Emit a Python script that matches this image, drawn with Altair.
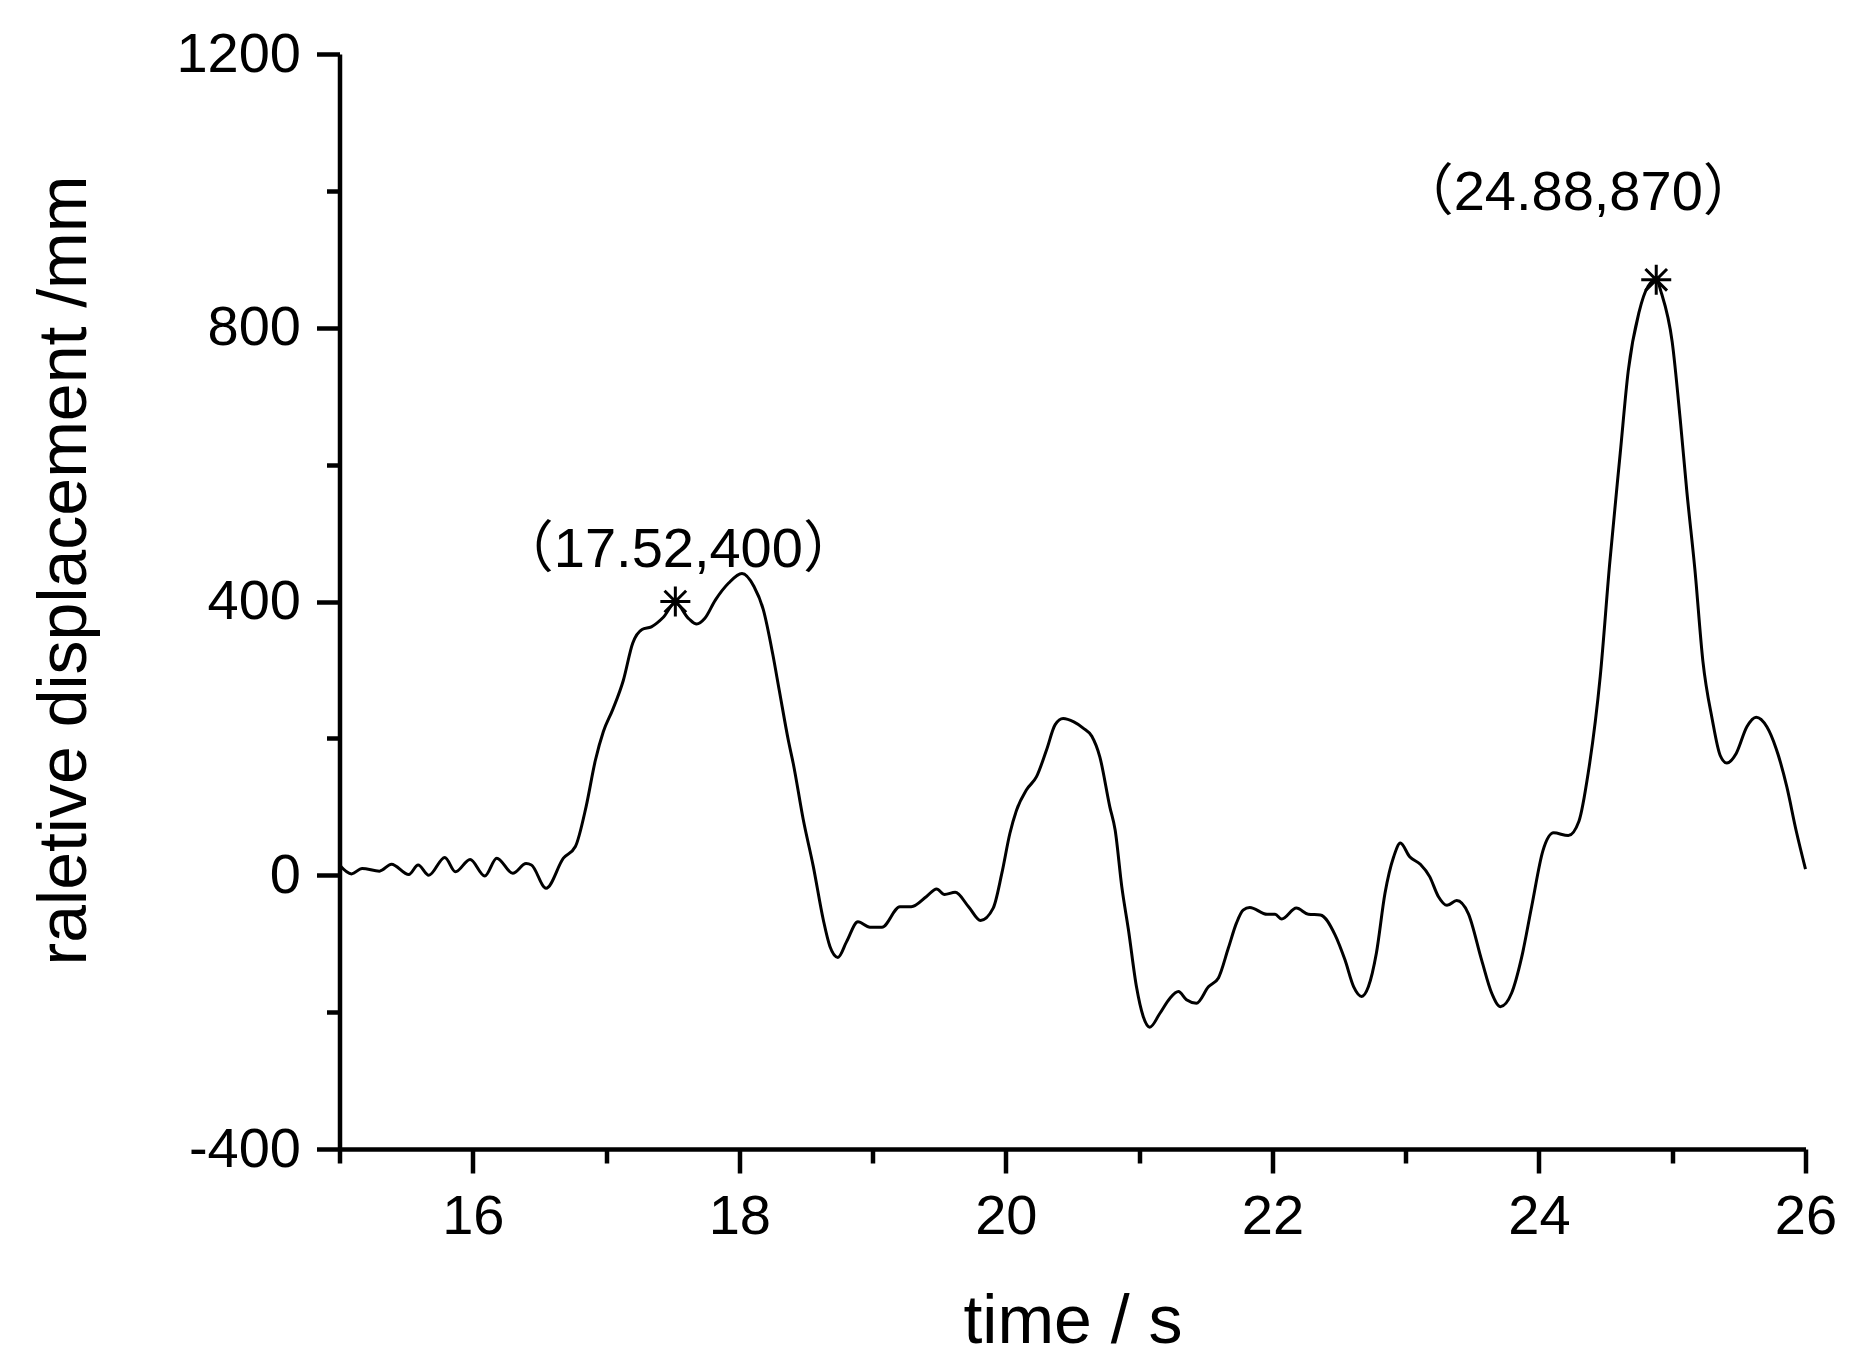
import altair as alt
import pandas as pd

# time (s) and relative displacement (mm)
T = [15.00, 15.09, 15.17, 15.30, 15.39, 15.52, 15.59, 15.67, 15.79, 15.87,
     15.98, 16.09, 16.18, 16.30, 16.40, 16.44, 16.55, 16.68, 16.77, 16.85,
     16.92, 16.98, 17.05, 17.13, 17.20, 17.27, 17.34, 17.43, 17.52, 17.62,
     17.68, 17.74, 17.82, 17.92, 18.02, 18.11, 18.18, 18.25, 18.30, 18.37,
     18.405, 18.48, 18.555, 18.63, 18.68, 18.74, 18.805, 18.89, 18.98, 19.07,
     19.205, 19.29, 19.405, 19.48, 19.54, 19.62, 19.72, 19.81, 19.905, 19.97,
     20.03, 20.08, 20.155, 20.23, 20.305, 20.37, 20.43, 20.51, 20.58, 20.645,
     20.705, 20.78, 20.82, 20.87, 20.92, 20.98, 21.03, 21.08, 21.155, 21.23,
     21.295, 21.355, 21.43, 21.52, 21.595, 21.67, 21.73, 21.78, 21.83, 21.96,
     22.02, 22.07, 22.18, 22.27, 22.36, 22.47, 22.545, 22.61, 22.67, 22.72,
     22.78, 22.845, 22.91, 22.96, 23.03, 23.11, 23.18, 23.245, 23.31, 23.383,
     23.47, 23.57, 23.645, 23.71, 23.795, 23.87, 23.945, 24.03, 24.11, 24.22,
     24.30, 24.37, 24.46, 24.53, 24.61, 24.67, 24.75, 24.82, 24.88, 24.92,
     25.00, 25.06, 25.11, 25.17, 25.23, 25.30, 25.36, 25.41, 25.48, 25.56,
     25.63, 25.71, 25.78, 25.86, 25.93, 26.00]
V = [15, 2, 10, 6, 16, 1, 15, 0, 26, 5,
     23, -1, 25, 3, 17, 15, -19, 25, 42, 100,
     168, 210, 242, 285, 339, 359, 363, 377, 398, 375,
     367, 375, 402, 427, 441, 422, 388, 324, 270, 195,
     163, 81, 13, -65, -104, -120, -97, -68, -76, -76,
     -46, -46, -31, -20, -28, -25, -46, -66, -48, 3,
     61, 95, 125, 144, 183, 220, 229, 224, 215, 203,
     173, 100, 66, -17, -80, -163, -206, -222, -202, -180,
     -170, -182, -187, -163, -150, -106, -70, -51, -47, -57,
     -57, -64, -48, -57, -58, -87, -124, -163, -177, -163,
     -114, -26, 27, 47, 27, 16, -2, -31, -44, -37,
     -56, -124, -172, -192, -172, -120, -46, 36, 62, 58,
     79, 150, 291, 454, 617, 737, 822, 861, 870, 850,
     779, 666, 560, 447, 313, 228, 175, 164, 178, 217,
     231, 217, 185, 129, 65, 9]

# marked points and their labels
MARK_T = [17.52, 24.88]
MARK_V = [400, 870]
MARK_LABELS = ["（17.52,400）", "（24.88,870）"]

X_TICKS = list(range(15, 27))
Y_TICKS = list(range(-400, 1201, 200))

FONT = "Liberation Sans"
W, H = 1466, 1095

df = pd.DataFrame({"t": T, "v": V})
marks = pd.DataFrame({"t": MARK_T, "v": MARK_V, "label": MARK_LABELS})

xscale = alt.Scale(domain=[15, 26], nice=False, zero=False)
yscale = alt.Scale(domain=[-400, 1200], nice=False, zero=False)

x_axis = alt.Axis(
    values=X_TICKS,
    tickSize={"condition": {"test": "datum.value % 2 === 0", "value": 24}, "value": 14},
    tickWidth=4.5, tickColor="black", domainWidth=4.5, domainColor="black",
    labelExpr="datum.value % 2 === 0 ? '' + datum.value : ''",
    labelFontSize=56, labelFont=FONT, labelColor="black", labelPadding=16,
    labelFlush=False, labelOverlap=False, grid=False,
    title="time / s", titleFont=FONT, titleFontSize=68, titleFontWeight="normal",
    titleColor="black", titleY=193, titleBaseline="alphabetic",
)
y_axis = alt.Axis(
    values=Y_TICKS,
    tickSize={"condition": {"test": "datum.value % 400 === 0", "value": 23}, "value": 13},
    tickWidth=4.5, tickColor="black", domainWidth=4.5, domainColor="black",
    labelExpr="datum.value % 400 === 0 ? '' + datum.value : ''",
    labelFontSize=56, labelFont=FONT, labelColor="black", labelPadding=16,
    labelFlush=False, labelOverlap=False, grid=False,
    title="raletive displacement /mm", titleFont=FONT, titleFontSize=68,
    titleFontWeight="normal", titleColor="black",
    titleX=-254, titleY=516, titleBaseline="alphabetic",
)

line = alt.Chart(df).mark_line(color="black", strokeWidth=3, interpolate="monotone").encode(
    x=alt.X("t:Q", scale=xscale, axis=x_axis),
    y=alt.Y("v:Q", scale=yscale, axis=y_axis),
)

star_path = "M-1,0L1,0M0,-1L0,1M-0.72,-0.72L0.72,0.72M-0.72,0.72L0.72,-0.72"
stars = alt.Chart(marks).mark_point(
    shape=star_path, size=900, filled=False, stroke="black", strokeWidth=3, opacity=1
).encode(x=alt.X("t:Q", scale=xscale), y=alt.Y("v:Q", scale=yscale))

lab1 = alt.Chart(marks.iloc[[0]]).mark_text(
    font=f"{FONT}, Noto Sans CJK SC", fontSize=56, color="black",
    align="center", baseline="middle", dx=3, dy=-52,
).encode(x=alt.X("t:Q", scale=xscale), y=alt.Y("v:Q", scale=yscale), text="label:N")

lab2 = alt.Chart(marks.iloc[[1]]).mark_text(
    font=f"{FONT}, Noto Sans CJK SC", fontSize=56, color="black",
    align="center", baseline="middle", dx=-78, dy=-87,
).encode(x=alt.X("t:Q", scale=xscale), y=alt.Y("v:Q", scale=yscale), text="label:N")

chart = alt.layer(line, stars, lab1, lab2).properties(
    width=W, height=H,
    autosize=alt.AutoSizeParams(type="none"),
    padding={"left": 331.5, "top": 46, "right": 40, "bottom": 212},
    background="white",
).configure_view(stroke=None)

chart.save("out.html", embed_options={"renderer": "svg", "actions": False})
